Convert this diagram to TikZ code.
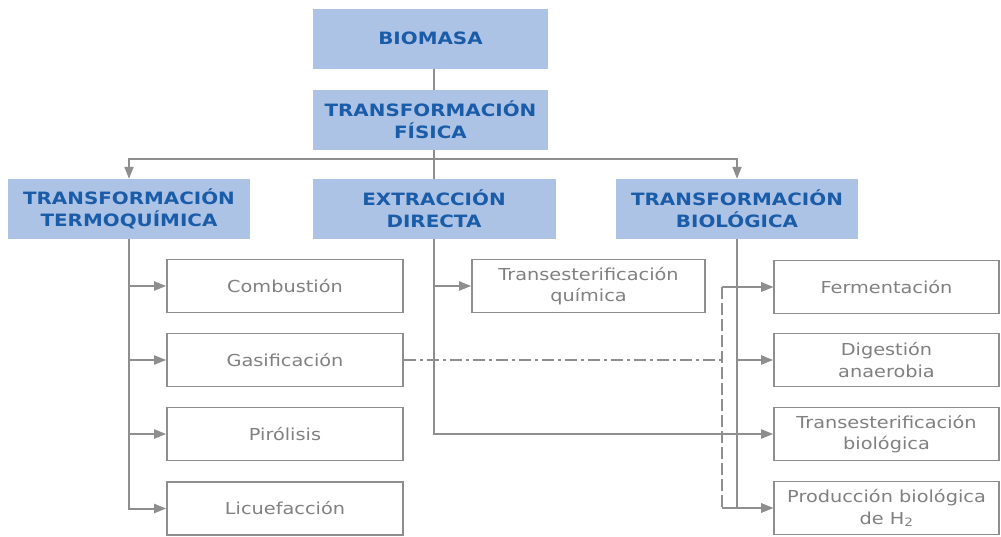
\documentclass[tikz,border=0pt]{standalone}
\usepackage{fontspec}
\usetikzlibrary{arrows.meta}
\newfontfamily\bodyfont{DejaVu Sans}[FakeStretch=1.17]
\definecolor{hfill}{HTML}{ADC3E6}
\definecolor{hblue}{HTML}{1A5CA8}
\definecolor{lgray}{HTML}{8E8E8E}
\definecolor{tgray}{HTML}{808080}
\tikzset{
  hdr/.style={fill=hfill, draw=none, text=hblue, align=center, inner sep=0pt,
    minimum height=60pt, font=\bodyfont\bfseries\fontsize{17}{22}\selectfont},
  leaf/.style={draw=lgray, line width=1.6pt, fill=white, text=tgray, align=center, inner sep=0pt,
    minimum height=53pt, font=\bodyfont\fontsize{16.5}{21.5}\selectfont},
  conn/.style={draw=lgray, line width=2pt},
  arr/.style={conn, -{Triangle[length=12pt,width=9pt]}},
  dashdot/.style={conn, dash pattern=on 12pt off 4pt on 3pt off 4pt},
  dashv/.style={conn, dash pattern=on 12pt off 4pt},
}
\begin{document}
\begin{tikzpicture}[x=1pt,y=-1pt]
\useasboundingbox (0,0) rectangle (1001,536);
% header boxes
\node[hdr, minimum width=235pt] (bio) at (430.5,38.5) {BIOMASA};
\node[hdr, minimum width=235pt] (fis) at (430.5,120) {TRANSFORMACIÓN\\FÍSICA};
\node[hdr, minimum width=242pt] (termo) at (129,209) {TRANSFORMACIÓN\\TERMOQUÍMICA};
\node[hdr, minimum width=243pt] (extr) at (434,209) {EXTRACCIÓN\\DIRECTA};
\node[hdr, minimum width=242pt] (biol) at (737,209) {TRANSFORMACIÓN\\BIOLÓGICA};
% leaf boxes
\node[leaf, minimum width=236pt] (comb) at (285,286) {Combustión};
\node[leaf, minimum width=236pt] (gasi) at (285,360) {Gasificación};
\node[leaf, minimum width=236pt] (piro) at (285,434) {Pirólisis};
\node[leaf, minimum width=236pt] (licu) at (285,508.5) {Licuefacción};
\node[leaf, minimum width=233pt] (tquim) at (588.5,286) {Transesterificación\\química};
\node[leaf, minimum width=225pt] (ferm) at (886.5,287) {Fermentación};
\node[leaf, minimum width=225pt] (dige) at (886.5,360) {Digestión\\anaerobia};
\node[leaf, minimum width=225pt] (tbio) at (886.5,434) {Transesterificación\\biológica};
\node[leaf, minimum width=225pt] (prod) at (886.5,508) {Producción biológica\\de H\textsubscript{2}};
% top connectors
\draw[conn] (bio.south -| extr.north) -- (fis.north -| extr.north);
\draw[conn] (fis.south -| extr.north) -- (extr.north);
\path (fis.south -| extr.north) ++(0,9) coordinate (j);
\draw[arr] (j) -| (termo.north);
\draw[arr] (j) -| (biol.north);
% thermochemical
\draw[arr] (termo.south) |- (comb.west);
\draw[arr] (termo.south) |- (gasi.west);
\draw[arr] (termo.south) |- (piro.west);
\draw[arr] (termo.south) |- (licu.west);
% direct extraction
\draw[arr] (extr.south) |- (tquim.west);
\draw[arr] (extr.south) |- (tbio.west);
% biological
\draw[arr] (biol.south) |- (ferm.west);
\draw[arr] (biol.south) |- (dige.west);
\draw[arr] (biol.south) |- (prod.west);
% gasification link
\coordinate (dmid) at (722,360);
\coordinate (dtop) at (722,287);
\coordinate (dbot) at (722,508);
\draw[dashdot] (gasi.east) -- (dmid);
\draw[dashv] (dtop) -- (dbot);
\draw[arr] (dtop) -- (ferm.west);
\draw[arr] (dbot) -- (prod.west);
\end{tikzpicture}
\end{document}
